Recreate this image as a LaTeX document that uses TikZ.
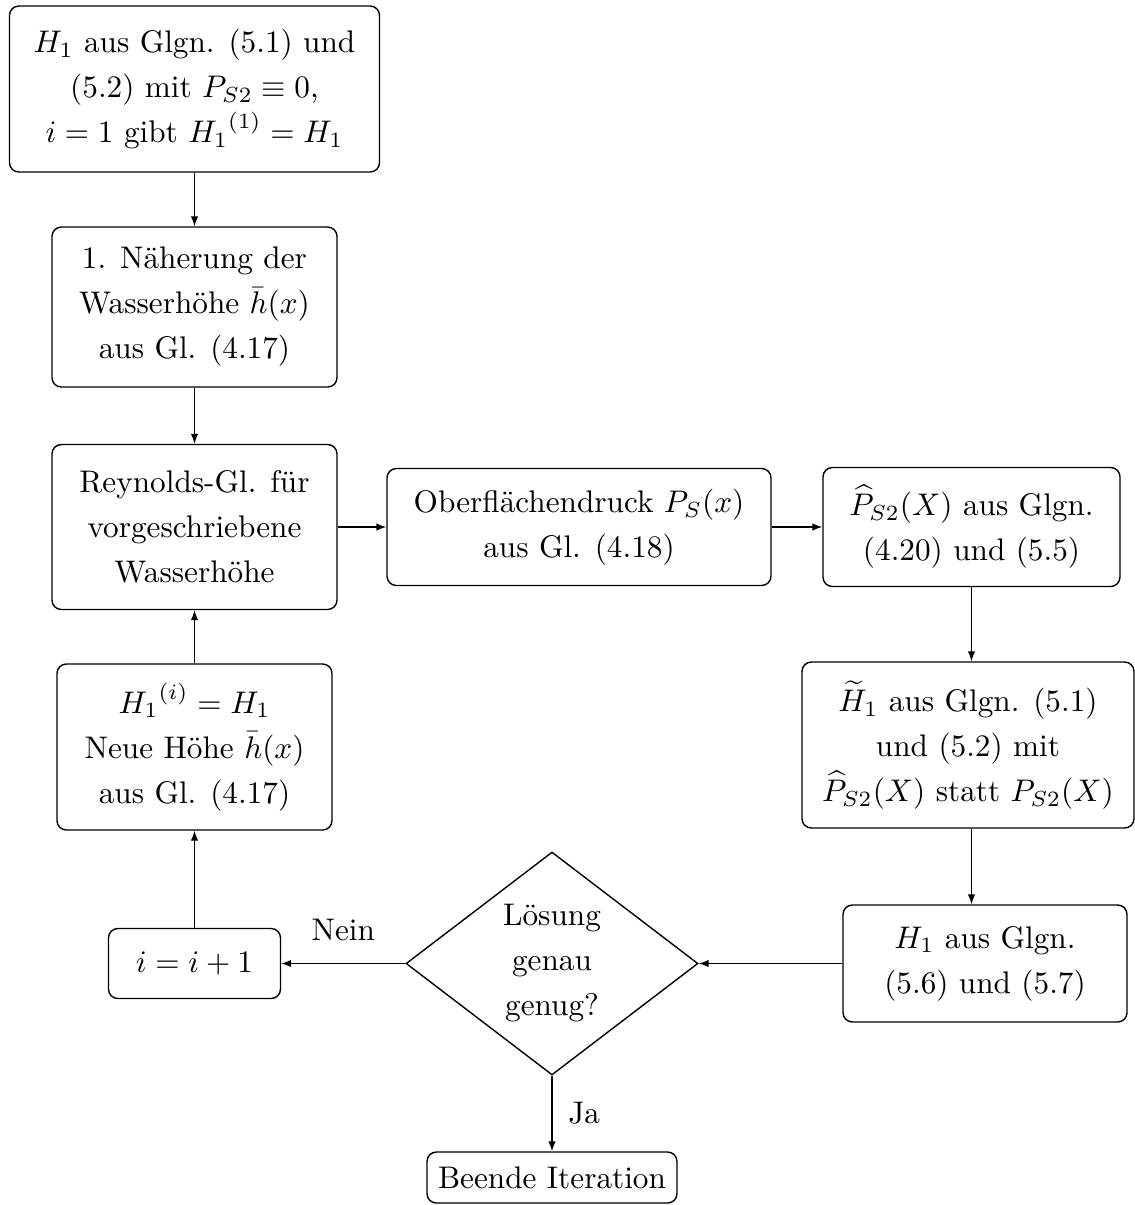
\documentclass[tikz,border=0pt]{standalone}
\usetikzlibrary{shapes.geometric,arrows.meta}
\begin{document}
\begin{tikzpicture}[x=0.32pt,y=-0.32pt,
  every node/.style={font=\fontsize{10pt}{14.4pt}\selectfont, align=center, inner sep=0pt},
  box/.style 2 args={draw, rounded corners=3pt, minimum width={#1*0.32pt}, minimum height={#2*0.32pt}},
  dec/.style={draw, diamond, minimum width={292*0.32pt}, minimum height={223*0.32pt}, aspect=1.31},
  arr/.style={-{Latex[length=3.2pt,width=2.4pt]}, line width=0.45pt},
  every path/.style={line width=0.45pt}]
\useasboundingbox (0,0) rectangle (1135,1205);
\node[box={370}{166}] (b1) at (194.5,89) {$H_1$ aus Glgn. (5.1) und\\(5.2) mit $P_{S2}\equiv 0$,\\$i=1$ gibt ${H_1}^{(1)}=H_1$};
\node[box={285}{160}] (b2) at (194.5,307) {1. Näherung der\\Wasserhöhe $\bar{h}(x)$\\aus Gl. (4.17)};
\node[box={285}{165}] (b3) at (194.5,527) {Reynolds-Gl. für\\vorgeschriebene\\Wasserhöhe};
\node[box={275}{166}] (b4) at (194.5,747) {${H_1}^{(i)}=H_1$\\Neue Höhe $\bar{h}(x)$\\aus Gl. (4.17)};
\node[box={172}{70}] (b5) at (194.5,963.5) {$i=i+1$};
\node[box={384}{117}] (ob) at (579,527) {Oberflächendruck $P_S(x)$\\aus Gl. (4.18)};
\node[box={297}{119}] (ps) at (971.5,527) {$\widehat{P}_{S2}(X)$ aus Glgn.\\(4.20) und (5.5)};
\node[box={332}{166}] (ht) at (968,745) {$\widetilde{H}_1$ aus Glgn. (5.1)\\und (5.2) mit\\$\widehat{P}_{S2}(X)$ statt $P_{S2}(X)$};
\node[box={284}{117}] (h1) at (985,963.5) {$H_1$ aus Glgn.\\(5.6) und (5.7)};
\node[dec] (dia) at (552,963.5) {Lösung\\genau\\genug?};
\node[box={250}{51}] (be) at (552,1177.5) {Beende Iteration};
\draw[arr] (b1.south) -- (b2.north);
\draw[arr] (b2.south) -- (b3.north);
\draw[arr] (b3.east) -- (ob.west);
\draw[arr] (ob.east) -- (ps.west);
\draw[arr] (ps.south) -- (ps.south |- ht.north);
\draw[arr] (ps.south |- ht.south) -- (ps.south |- h1.north);
\draw[arr] (h1.west) -- (dia.east);
\draw[arr] (dia.west) -- node[above=7pt] (nein) {Nein} (b5.east);
\draw[arr] (b5.north) -- (b4.south);
\draw[arr] (b4.north) -- (b3.south);
\draw[arr] (dia.south) -- node[right=5pt] (ja) {Ja} (be.north);
\end{tikzpicture}
\end{document}
